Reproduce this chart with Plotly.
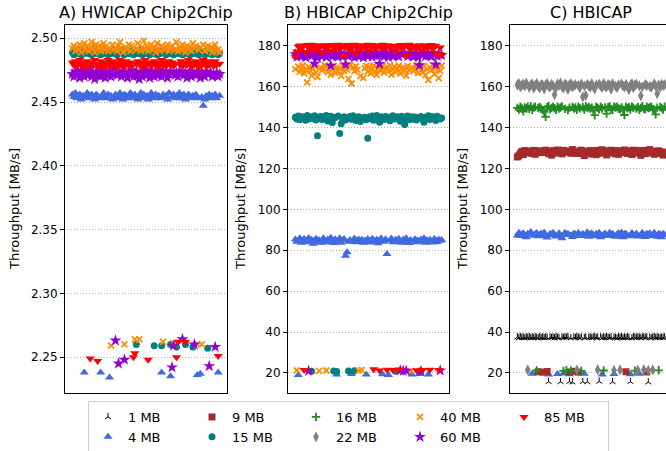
import plotly.graph_objects as go

# ---------------- data ----------------
panel_titles = ["A) HWICAP Chip2Chip", "B) HBICAP Chip2Chip", "C) HBICAP"]
y_label = "Throughput [MB/s]"
ticks_A = [2.25, 2.30, 2.35, 2.40, 2.45, 2.50]
ticks_BC = [20, 40, 60, 80, 100, 120, 140, 160, 180]

A_4MB = [2.456,2.454,2.457,2.453,2.455,2.456,2.452,2.455,2.238,2.454,
         2.457,2.453,2.455,2.456,2.454,2.452,2.456,2.455,2.453,2.238,
         2.455,2.457,2.454,2.453,2.456,2.234,2.455,2.452,2.454,2.456,
         2.453,2.455,2.457,2.454,2.452,2.456,2.455,2.453,2.454,2.457,
         2.455,2.453,2.456,2.454,2.452,2.455,2.457,2.453,2.456,2.454,
         2.455,2.452,2.454,2.457,2.455,2.453,2.456,2.454,2.455,2.453,
         2.238,2.456,2.454,2.455,2.452,2.457,2.235,2.454,2.456,2.453,
         2.455,2.454,2.457,2.453,2.455,2.456,2.452,2.454,2.456,2.455,
         2.453,2.455,2.454,2.456,2.236,2.453,2.237,2.454,2.447,2.452,
         2.455,2.454,2.456,2.453,2.455,2.454,2.456,2.453,2.238,2.455]
A_15MB = [2.489,2.487,2.490,2.488,2.491,2.489,2.487,2.490,2.488,2.489,
          2.491,2.488,2.490,2.487,2.489,2.492,2.488,2.490,2.489,2.487,
          2.490,2.488,2.491,2.489,2.487,2.490,2.488,2.492,2.489,2.488,
          2.487,2.490,2.489,2.491,2.488,2.487,2.490,2.489,2.488,2.491,
          2.489,2.487,2.490,2.260,2.488,2.491,2.489,2.487,2.490,2.488,
          2.489,2.491,2.487,2.490,2.488,2.259,2.489,2.487,2.490,2.488,
          2.259,2.489,2.491,2.487,2.490,2.488,2.260,2.489,2.487,2.490,
          2.258,2.488,2.489,2.491,2.487,2.490,2.260,2.488,2.489,2.487,
          2.490,2.258,2.488,2.489,2.491,2.487,2.490,2.488,2.489,2.487,
          2.490,2.257,2.488,2.489,2.487,2.490,2.488,2.489,2.487,2.488]
A_40MB = [2.492,2.494,2.490,2.493,2.491,2.495,2.489,2.493,2.496,2.491,
          2.494,2.490,2.493,2.497,2.492,2.489,2.495,2.491,2.494,2.490,
          2.493,2.496,2.491,2.494,2.490,2.492,2.259,2.495,2.491,2.493,
          2.490,2.494,2.497,2.492,2.489,2.260,2.493,2.491,2.495,2.490,
          2.494,2.492,2.264,2.491,2.496,2.264,2.490,2.493,2.498,2.491,
          2.494,2.490,2.492,2.495,2.491,2.493,2.489,2.496,2.492,2.490,
          2.494,2.262,2.491,2.493,2.495,2.490,2.492,2.494,2.261,2.491,
          2.497,2.490,2.493,2.491,2.495,2.492,2.489,2.494,2.491,2.493,
          2.490,2.496,2.492,2.494,2.260,2.491,2.493,2.260,2.495,2.490,
          2.492,2.494,2.491,2.493,2.489,2.492,2.495,2.490,2.491,2.489]
A_60MB = [2.472,2.470,2.474,2.471,2.473,2.469,2.475,2.472,2.470,2.474,
          2.471,2.473,2.476,2.470,2.472,2.468,2.474,2.471,2.473,2.470,
          2.475,2.472,2.469,2.473,2.471,2.474,2.470,2.472,2.476,2.263,
          2.471,2.245,2.473,2.470,2.474,2.248,2.472,2.469,2.473,2.471,
          2.475,2.470,2.472,2.474,2.471,2.468,2.473,2.470,2.472,2.475,
          2.471,2.473,2.469,2.474,2.472,2.470,2.473,2.471,2.475,2.472,
          2.470,2.474,2.471,2.473,2.469,2.472,2.474,2.242,2.259,2.471,
          2.473,2.470,2.474,2.472,2.264,2.471,2.473,2.469,2.472,2.474,
          2.470,2.473,2.260,2.471,2.474,2.472,2.469,2.473,2.471,2.470,
          2.474,2.472,2.243,2.473,2.470,2.471,2.258,2.473,2.470,2.472]
A_85MB = [2.481,2.479,2.482,2.478,2.480,2.483,2.479,2.481,2.477,2.480,
          2.482,2.478,2.249,2.481,2.479,2.483,2.480,2.247,2.478,2.482,
          2.480,2.477,2.481,2.479,2.483,2.478,2.480,2.482,2.479,2.481,
          2.477,2.480,2.483,2.479,2.481,2.478,2.482,2.480,2.479,2.481,
          2.478,2.250,2.253,2.480,2.482,2.479,2.481,2.477,2.480,2.483,
          2.479,2.248,2.481,2.478,2.480,2.482,2.479,2.481,2.477,2.480,
          2.483,2.479,2.481,2.478,2.480,2.482,2.479,2.481,2.478,2.480,
          2.250,2.262,2.480,2.482,2.478,2.481,2.262,2.479,2.483,2.480,
          2.478,2.481,2.479,2.482,2.480,2.477,2.481,2.479,2.483,2.480,
          2.478,2.482,2.479,2.481,2.480,2.478,2.482,2.479,2.251,2.480]

B_4MB = [85.2,84.1,19.0,85.8,83.6,84.9,85.5,83.9,84.6,86.0,
         84.3,85.1,83.2,84.8,85.6,84.2,85.0,83.7,84.7,85.9,
         83.8,84.5,85.3,84.0,86.1,84.6,83.5,85.4,19.3,84.2,
         85.8,83.7,84.9,85.5,77.3,79.0,84.1,85.0,19.5,84.4,
         85.7,83.9,84.8,85.3,84.0,85.1,83.6,84.7,19.2,85.5,
         84.3,83.8,85.6,84.9,84.2,85.2,83.4,84.6,85.9,19.4,
         84.1,85.4,78.2,19.0,84.8,85.7,83.9,84.5,85.1,84.0,
         85.6,84.3,83.7,85.2,84.8,85.9,84.1,83.5,85.0,19.3,
         84.6,85.4,83.9,84.7,19.5,85.3,84.2,85.8,83.6,84.9,
         19.2,85.1,84.4,83.8,85.5,84.7,84.0,85.2,84.6,85.0]
B_15MB = [145.0,144.2,145.6,143.8,144.9,145.3,144.6,143.5,145.8,144.1,
          145.2,20.8,144.4,145.7,143.6,136.0,144.8,145.4,143.9,145.1,
          144.3,145.9,143.2,144.7,145.5,142.4,21.0,144.9,20.7,145.6,
          137.0,141.8,144.2,145.3,143.7,144.8,20.9,145.4,144.0,145.7,
          21.1,143.4,144.9,145.2,142.9,144.6,144.4,145.0,143.8,134.7,
          145.1,144.3,145.6,143.5,144.7,145.8,144.0,142.6,145.3,144.5,
          143.9,145.4,144.8,145.0,143.3,144.6,145.7,144.1,20.8,145.2,
          144.4,143.0,145.5,144.9,141.5,144.2,145.6,143.8,144.7,145.3,
          144.0,145.1,143.6,144.8,20.9,145.4,144.3,142.5,145.0,144.6,
          145.7,143.9,144.5,145.2,144.1,143.4,145.5,144.8,144.2,144.6]
B_40MB = [168.5,21.3,169.8,167.2,168.9,170.3,166.5,168.1,162.0,169.5,
          167.8,165.4,168.7,170.1,166.9,164.6,21.0,169.2,167.9,168.6,
          170.4,21.2,167.1,169.3,165.8,168.4,170.0,166.7,169.1,167.5,
          168.8,165.2,170.2,167.7,169.0,168.3,163.8,170.5,161.5,169.4,
          167.6,169.9,168.2,21.1,165.1,21.4,164.2,168.9,170.1,167.3,
          169.6,166.4,168.5,170.3,167.0,165.7,169.2,168.1,168.0,170.0,
          166.8,168.7,169.5,167.4,170.4,165.9,168.3,169.8,167.1,168.9,
          170.2,166.3,168.6,169.4,167.8,165.3,170.1,168.0,21.0,169.1,
          167.5,168.8,170.3,166.6,169.7,168.2,167.0,170.0,165.6,168.4,
          163.3,169.3,167.9,170.5,166.1,168.6,169.6,164.1,167.7,170.2]
B_60MB = [175.8,174.6,176.2,175.1,174.8,176.5,175.3,174.2,176.1,21.0,
          175.5,174.9,176.4,171.2,175.2,174.0,176.8,175.6,174.7,175.9,
          176.6,174.4,175.7,176.1,170.3,174.8,175.3,176.4,175.0,174.5,
          176.2,175.8,174.6,176.0,170.8,175.2,174.9,175.7,176.3,175.4,
          174.3,176.5,175.1,174.7,176.0,175.6,174.2,176.4,175.3,174.8,
          175.9,176.2,174.5,175.4,176.7,174.9,175.8,171.0,176.1,175.2,
          174.6,175.7,176.3,174.4,175.5,176.0,174.8,175.3,176.5,175.1,
          174.7,21.2,175.9,21.0,176.2,21.1,174.9,175.6,176.4,175.0,
          174.5,175.8,176.1,174.3,170.4,20.9,175.4,176.3,174.8,175.7,
          176.0,175.2,174.6,176.4,175.5,170.8,174.9,175.8,21.2,175.4]
B_85MB = [174.5,177.2,179.6,180.1,178.4,179.8,21.5,176.9,180.3,179.1,
          178.2,180.4,179.5,177.8,180.0,179.3,178.6,180.2,176.4,179.7,
          180.1,178.9,179.4,180.3,177.5,179.9,180.2,178.7,179.6,180.4,
          178.1,179.8,180.0,174.8,179.2,180.3,179.4,177.9,180.1,179.0,
          180.4,176.2,179.5,180.2,178.3,179.7,180.0,178.8,179.3,180.5,
          177.6,179.9,180.3,21.8,178.5,179.6,180.1,21.2,179.0,180.4,
          178.7,179.5,21.6,180.2,178.9,179.4,21.4,180.0,177.4,179.8,
          21.7,180.3,178.6,179.2,180.1,175.0,179.7,180.4,178.2,179.5,
          180.0,178.8,21.3,179.6,180.2,177.7,21.5,179.3,180.1,178.5,
          179.9,21.6,180.3,178.4,179.7,180.0,176.1,21.4,179.1,175.3]

C_1MB = [37.5,37.1,37.6,37.2,37.4,37.0,37.5,37.3,37.6,37.1,
         37.4,37.2,37.5,37.3,37.0,37.6,37.2,37.4,37.1,37.5,
         37.3,15.7,37.4,37.2,37.5,37.0,37.6,37.3,37.1,15.6,
         37.4,37.2,37.5,37.3,37.6,15.8,37.1,15.5,37.4,37.2,
         37.6,37.3,37.0,37.5,15.7,37.2,37.4,15.6,37.3,37.5,
         37.1,37.4,37.6,37.2,37.3,15.8,37.5,37.0,37.4,37.2,
         37.6,37.3,37.1,37.5,15.6,37.4,37.2,36.9,37.5,37.3,
         37.6,37.1,37.4,37.2,37.5,37.3,15.7,37.0,37.6,37.4,
         37.2,37.5,37.3,37.1,37.4,37.6,37.2,37.5,15.5,37.3,
         37.0,37.4,37.6,37.2,37.5,37.3,37.1,37.4,37.2,37.5]
C_4MB = [87.2,88.6,86.9,87.8,88.3,87.5,86.4,88.1,87.7,88.9,
         19.6,87.1,87.9,88.4,86.8,87.6,88.2,87.0,88.7,87.4,
         86.2,19.3,88.0,87.3,88.5,87.6,86.7,19.5,88.3,87.1,
         85.9,19.7,88.6,87.4,88.1,19.4,87.3,86.5,88.2,87.8,
         86.9,88.4,87.6,87.0,88.1,19.6,87.2,88.8,86.6,87.9,
         88.3,87.5,86.8,88.0,87.3,88.6,86.3,19.3,87.7,88.2,
         87.1,86.9,88.5,87.4,88.0,19.5,86.6,87.8,88.3,87.2,
         88.7,86.4,87.9,88.1,87.3,86.8,19.4,88.4,87.6,87.0,
         88.2,86.7,19.6,87.5,88.6,87.1,86.5,88.0,87.7,88.3,
         86.9,87.4,88.5,87.2,86.6,88.1,87.8,86.3,88.0,87.5]
C_9MB = [125.6,126.2,127.4,128.3,126.8,128.7,127.9,128.5,127.6,128.1,
         127.3,128.8,126.9,128.4,20.6,127.7,128.6,20.4,127.8,128.9,
         20.7,127.2,128.3,126.5,128.7,127.5,128.2,129.0,127.6,128.4,
         127.1,128.8,127.9,128.5,128.2,20.5,127.4,129.2,20.8,128.0,
         127.3,20.4,128.6,128.9,127.2,126.3,128.4,127.6,127.9,128.7,
         127.0,128.5,128.1,126.7,128.8,127.4,128.3,129.1,127.8,128.2,
         126.6,128.6,127.5,128.9,127.9,128.4,127.1,128.7,126.9,128.2,
         128.5,127.7,129.0,20.6,127.3,128.6,128.0,126.8,128.9,127.5,
         128.3,127.9,128.7,126.4,128.1,128.8,127.2,20.5,128.5,129.2,
         127.6,128.4,126.9,128.2,127.8,128.6,127.3,128.0,126.5,127.9]
C_16MB = [149.6,148.8,150.2,149.3,147.9,149.8,149.4,150.3,149.1,150.4,
          148.6,149.7,150.1,21.2,149.5,150.0,149.2,148.5,147.6,145.2,
          149.9,150.5,148.9,149.6,150.2,149.4,148.7,150.1,149.3,149.8,
          150.3,21.0,149.1,21.3,148.5,149.7,21.1,150.1,149.3,149.8,
          148.6,150.2,149.4,21.0,149.9,148.8,150.4,149.5,150.0,149.2,
          149.7,148.4,146.0,150.2,149.6,148.9,150.1,149.3,21.2,149.8,
          146.8,149.9,150.3,149.1,148.5,150.2,149.7,150.1,149.3,148.9,
          149.8,148.6,146.1,150.2,149.4,149.9,148.8,150.3,149.5,21.1,
          149.2,150.0,148.7,149.6,150.4,149.1,148.9,150.1,149.5,149.8,
          150.2,149.0,148.6,146.4,149.7,21.3,150.0,149.5,148.8,150.1]
C_22MB = [160.8,161.5,159.9,160.6,161.2,160.3,161.7,21.5,159.6,160.9,
          161.3,159.2,160.5,161.6,160.1,159.4,161.0,160.7,158.8,160.9,
          161.4,160.2,159.7,161.1,160.4,156.0,159.5,161.3,160.6,161.8,
          160.0,159.3,161.2,160.7,158.6,160.9,161.5,159.8,160.4,161.0,
          21.4,160.6,159.4,161.3,155.0,160.2,155.6,161.1,160.5,159.7,
          161.4,160.0,158.9,160.8,21.6,161.2,160.3,159.6,161.6,160.1,
          159.9,161.0,160.6,158.7,161.4,21.3,160.2,159.5,160.9,21.5,
          161.3,160.4,159.8,161.1,160.0,158.5,160.7,161.5,159.4,160.8,
          161.2,21.4,160.3,155.5,159.9,21.6,161.0,160.5,21.3,160.1,
          159.6,21.5,161.4,160.2,156.5,160.8,159.7,161.1,160.4,161.0]

# ---------------- styles ----------------
FONT = "DejaVu Sans"
style = {
    "1 MB":  dict(symbol="y-up", color="black", size=5, line=1.0, rank=1),
    "4 MB":  dict(symbol="triangle-up", color="#4169E1", size=8, line=0, rank=6),
    "9 MB":  dict(symbol="square", color="#A52A2A", size=7, line=0, rank=2),
    "15 MB": dict(symbol="circle", color="#008080", size=7, line=0, rank=7),
    "16 MB": dict(symbol="cross-thin", color="#228B22", size=6, line=1.8, rank=3),
    "22 MB": dict(symbol="diamond-tall", color="#808080", size=8, line=0, rank=8),
    "40 MB": dict(symbol="x-thin", color="#FF8C00", size=6, line=1.8, rank=4),
    "60 MB": dict(symbol="star", color="#9400D3", size=9, line=0, rank=9),
    "85 MB": dict(symbol="triangle-down", color="#FF0000", size=8, line=0, rank=5),
}

panels = [
    [("4 MB", A_4MB), ("15 MB", A_15MB), ("40 MB", A_40MB), ("60 MB", A_60MB), ("85 MB", A_85MB)],
    [("4 MB", B_4MB), ("15 MB", B_15MB), ("40 MB", B_40MB), ("60 MB", B_60MB), ("85 MB", B_85MB)],
    [("1 MB", C_1MB), ("4 MB", C_4MB), ("9 MB", C_9MB), ("16 MB", C_16MB), ("22 MB", C_22MB)],
]

fig = go.Figure()
shown = set()
for p, series in enumerate(panels):
    xa = "x" if p == 0 else f"x{p+1}"
    ya = "y" if p == 0 else f"y{p+1}"
    for name, vals in series:
        s = style[name]
        mk = dict(symbol=s["symbol"], color=s["color"], size=s["size"])
        if s["line"]:
            mk["line"] = dict(color=s["color"], width=s["line"])
        fig.add_trace(go.Scatter(
            x=list(range(len(vals))), y=vals, mode="markers", name=name,
            marker=mk, xaxis=xa, yaxis=ya, legendgroup=name,
            showlegend=name not in shown, legendrank=s["rank"],
        ))
        shown.add(name)

W, H = 666, 451
ml, mr, mt, mb = 60, 0, 25, 58
gw, gh = W - ml - mr, H - mt - mb

def px_x(px):
    return (px - ml) / gw

def px_y(py):
    return 1 - (py - mt) / gh

dom = [(65, 227), (288, 449), (510, 666)]
axis_common = dict(showline=True, linecolor="black", linewidth=1, zeroline=False)
yaxis_common = dict(axis_common, ticks="outside", ticklen=4, tickwidth=1, tickcolor="black",
                    showgrid=True, gridcolor="#b0b0b0", griddash="1px,2px", gridwidth=1,
                    tickfont=dict(family=FONT, size=12, color="black"))
xaxis_common = dict(axis_common, showticklabels=False, ticks="", showgrid=False, mirror=True)

n = len(A_4MB) - 1
pad = 0.05 * n
layout = dict(
    width=W, height=H, paper_bgcolor="white", plot_bgcolor="white",
    margin=dict(l=ml, r=mr, t=mt, b=mb, autoexpand=False),
    font=dict(family=FONT, color="black"),
    xaxis=dict(xaxis_common, domain=[px_x(dom[0][0]), px_x(dom[0][1])], range=[-pad, n + pad]),
    xaxis2=dict(xaxis_common, domain=[px_x(dom[1][0]), px_x(dom[1][1])], range=[-pad, n + pad]),
    xaxis3=dict(xaxis_common, domain=[px_x(dom[2][0]), 1.0],
                range=[-pad, -pad + (n + 2 * pad) * (dom[2][1] - dom[2][0]) / 162]),
    yaxis=dict(yaxis_common, anchor="x", mirror=True, range=[2.2219, 2.5104],
               tickvals=ticks_A, ticktext=[f"{t:.2f}" for t in ticks_A]),
    yaxis2=dict(yaxis_common, anchor="x2", mirror=True, range=[10.2, 190.1], tickvals=ticks_BC),
    yaxis3=dict(yaxis_common, anchor="x3", mirror=False, range=[10.2, 190.1], tickvals=ticks_BC),
    legend=dict(orientation="h", x=px_x(88), y=px_y(401), xanchor="left", yanchor="top",
                entrywidth=59, bordercolor="#cccccc", borderwidth=1, bgcolor="white",
                font=dict(family=FONT, size=13, color="black"), tracegroupgap=0),
    showlegend=True,
)
fig.update_layout(**layout)

centers = [146, 368.5, 591]
for c, t in zip(centers, panel_titles):
    fig.add_annotation(text=t, x=px_x(c), y=px_y(12), xref="paper", yref="paper",
                       xanchor="center", yanchor="middle", showarrow=False,
                       font=dict(family=FONT, size=16, color="black"))
for xl in [14, 240, 462]:
    fig.add_annotation(text=y_label, x=px_x(xl), y=px_y(209), xref="paper", yref="paper",
                       xanchor="center", yanchor="middle", showarrow=False, textangle=-90,
                       font=dict(family=FONT, size=13, color="black"))

fig.write_html("out.html", config=dict(displayModeBar=False))
